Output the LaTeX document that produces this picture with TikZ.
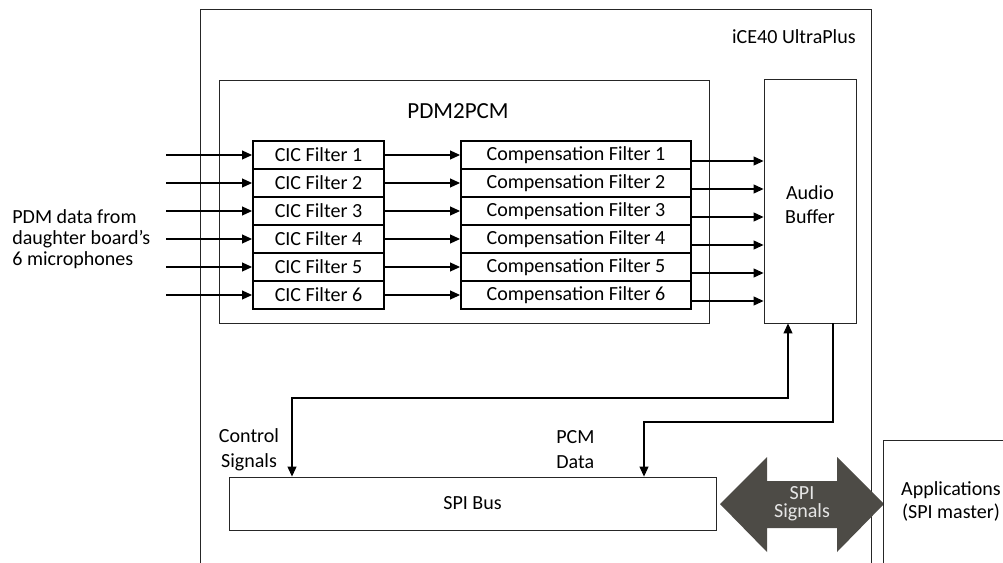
\documentclass[tikz,border=0pt]{standalone}
\usepackage{fontspec}
\setmainfont{Carlito}
\usepackage{tikz}
\usetikzlibrary{shapes,arrows.meta,positioning}
\usepackage{xcolor}
\definecolor{spigray}{HTML}{4D4B46}
\definecolor{spitext}{HTML}{E6E6E6}

\begin{document}
\begin{tikzpicture}
            \tikzstyle{block} = [draw=black!85, line width=0.5pt, inner sep=0pt]
            \tikzstyle{filter} = [draw=black, line width=1.1pt, minimum height=0.56cm, inner sep=0pt, font=\fontsize{11.4}{13}\selectfont]
            \tikzstyle{sig} = [-{Triangle[length=0.2cm, width=0.18cm]}, line width=0.6pt, draw=black]
            \tikzstyle{txt} = [inner sep=0pt, font=\fontsize{11.4}{13}\selectfont]
            \clip (0, 0) rectangle (20.06, -11.26);
            % chip outline, runs off the bottom
            \node[block, minimum width=13.41cm, minimum height=11.5cm] (chip) at (10.715, -5.93) {};
            \node[txt, anchor=east] (chipname) at (17.12, -0.74) {iCE40 UltraPlus};
            \node[block, minimum width=9.8cm, minimum height=4.86cm] (pdm) at (9.28, -4.03) {};
            \node[txt, font=\fontsize{13.1}{15}\selectfont] (pdmname) at (9.16, -2.22) {PDM2PCM};
            \node[block, minimum width=1.84cm, minimum height=4.88cm] (buf) at (16.2, -4.02) {};
            \node[txt, align=center, font=\fontsize{11.4}{13.7}\selectfont] (bufname) at (16.2, -4.1) {Audio\\Buffer};
            % six channels
            \foreach \i in {1,...,6} {
                \pgfmathsetmacro{\y}{-3.1 - 0.56*(\i - 1)}
                \node[filter, minimum width=2.62cm] (cic\i) at (6.37, \y) {CIC Filter \i};
                \node[filter, minimum width=4.6cm] (comp\i) at (11.52, \y) {Compensation Filter \i};
                \coordinate (in\i) at (3.32, \y);
                \draw[sig] (in\i) -- (cic\i);
                \draw[sig] (cic\i) -- (comp\i);
                \draw[sig] ([yshift=-0.12cm]comp\i.east) -- ([yshift=-0.12cm]comp\i.east -| buf.west);
            }
            \node[txt, anchor=west, align=left, font=\fontsize{11.4}{12}\selectfont] (mics) at (0.24, -4.78) {PDM data from\\daughter board’s\\6 microphones};
            % SPI side
            \node[block, minimum width=9.74cm, minimum height=1.06cm] (bus) at (9.45, -10.07) {};
            \node[txt] (busname) at (bus.center) {SPI Bus};
            \coordinate (ctl) at (5.84, -7.96);
            \coordinate (pcm) at (12.88, -8.44);
            \draw[sig, {Triangle[length=0.2cm, width=0.18cm]}-{Triangle[length=0.2cm, width=0.18cm]}] (ctl |- bus.north) -- (ctl) -| ([xshift=-0.44cm]buf.south);
            \draw[sig] ([xshift=0.46cm]buf.south) |- (pcm) -- (pcm |- bus.north);
            \node[txt, align=center, font=\fontsize{11.4}{14.2}\selectfont] (ctlname) at (4.98, -9.0) {Control\\Signals};
            \node[txt, anchor=west, align=left, font=\fontsize{11.4}{14.2}\selectfont] (pcmname) at (11.12, -9.0) {PCM\\Data};
            % fat two-way arrow between bus and host
            \coordinate (spi) at (16.04, -10.08);
            \fill[spigray, shift={(spi)}] (-1.64, 0) -- (-0.7, 0.94) -- (-0.7, 0.46) -- (0.7, 0.46) -- (0.7, 0.94) -- (1.64, 0)
                -- (0.7, -0.96) -- (0.7, -0.48) -- (-0.7, -0.48) -- (-0.7, -0.96) -- cycle;
            \node[txt, align=center, text=spitext, font=\fontsize{11.4}{10.3}\selectfont] (spiname) at (spi) {SPI\\Signals};
            \node[block, minimum width=4cm, minimum height=4cm] (app) at (19.66, -10.8) {};
            \node[txt, align=center, font=\fontsize{11.4}{13.1}\selectfont] (appname) at (19.02, -10.02) {Applications\\(SPI master)};
        \end{tikzpicture}
\end{document}
